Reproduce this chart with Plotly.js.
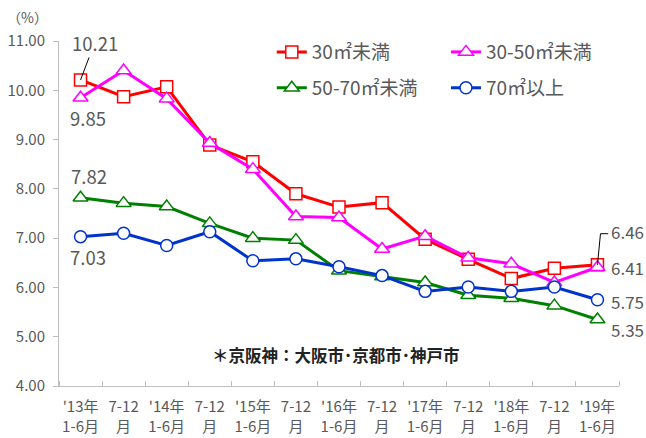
<!DOCTYPE html>
<html><head><meta charset="utf-8">
<script src="https://cdn.plot.ly/plotly-3.0.1.min.js"></script>
<style>html,body{margin:0;padding:0;background:#fff}#c{width:646px;height:438px}</style>
</head><body><div id="c"></div>
<script>
const categories = ["'13年<br>1-6月","7-12<br>月","'14年<br>1-6月","7-12<br>月","'15年<br>1-6月","7-12<br>月","'16年<br>1-6月","7-12<br>月","'17年<br>1-6月","7-12<br>月","'18年<br>1-6月","7-12<br>月","'19年<br>1-6月"];
const seriesNames = ["30㎡未満","30-50㎡未満","50-70㎡未満","70㎡以上"];
const under30 = [10.21, 9.87, 10.07, 8.89, 8.55, 7.90, 7.63, 7.72, 6.98, 6.57, 6.18, 6.39, 6.46];
const from30to50 = [9.85, 10.40, 9.83, 8.93, 8.40, 7.44, 7.42, 6.78, 7.04, 6.60, 6.48, 6.10, 6.41];
const from50to70 = [7.82, 7.71, 7.64, 7.30, 7.00, 6.96, 6.34, 6.22, 6.10, 5.84, 5.78, 5.63, 5.35];
const over70 = [7.03, 7.10, 6.85, 7.13, 6.54, 6.58, 6.42, 6.24, 5.92, 6.01, 5.92, 6.01, 5.75];
const noteText = "＊京阪神：大阪市･京都市･神戸市";
const unitText = "（%）";

const FONT = "'Noto Sans CJK JP', 'Noto Sans', sans-serif";
const GRAY = "#595959";
const cols = ["#FF0000","#FF00FF","#008000","#0033CC"];
const syms = ["square","triangle-up","triangle-up","circle"];
const all = [under30, from30to50, from50to70, over70];
const xIdx = categories.map((_, i) => i);
const legendIds = ["legend","legend2","legend3","legend4"];

const traces = all.map((v,i)=>({
  type:"scatter", mode:"lines+markers", name:seriesNames[i],
  x:xIdx, y:v,
  legend: legendIds[i],
  line:{color:cols[i], width:3},
  marker:{symbol:syms[i], size: syms[i].startsWith("triangle")?13:12, color:"#fff", line:{color:cols[i], width:1.5}},
  hoverinfo:"skip"
}));

const last = categories.length-1;
const annFont = {family:FONT, size:18.5, color:GRAY};
const annFontR = {family:FONT, size:17, color:GRAY};
const annotations = [
  {x:0, y:under30[0], text:under30[0].toFixed(2), showarrow:true, arrowhead:0, arrowwidth:1, arrowcolor:"#000", ax:14, ay:-37, font:annFont},
  {x:0, y:from30to50[0], text:from30to50[0].toFixed(2), showarrow:false, xshift:7, yshift:-20, font:annFont},
  {x:0, y:from50to70[0], text:from50to70[0].toFixed(2), showarrow:false, xshift:8, yshift:22, font:annFont},
  {x:0, y:over70[0], text:over70[0].toFixed(2), showarrow:false, xshift:7, yshift:-20, font:annFont},
  {x:last, y:under30[last], text:under30[last].toFixed(2), showarrow:false, xanchor:"left", xshift:12, yshift:33, font:annFontR},
  {x:last, y:from30to50[last], text:from30to50[last].toFixed(2), showarrow:false, xanchor:"left", xshift:12, yshift:0, font:annFontR},
  {x:last, y:over70[last], text:over70[last].toFixed(2), showarrow:false, xanchor:"left", xshift:12, yshift:-2, font:annFontR},
  {x:last, y:from50to70[last], text:from50to70[last].toFixed(2), showarrow:false, xanchor:"left", xshift:12, yshift:-10, font:annFontR},
  {xref:"paper", yref:"paper", x:0.495, y:0.09, xanchor:"center", yanchor:"middle", text:"<b>"+noteText+"</b>", showarrow:false, font:{family:FONT, size:16.5, color:"#222"}},
  {xref:"paper", yref:"paper", x:-0.057, y:1.07, xanchor:"center", yanchor:"middle", text:unitText, showarrow:false, font:{family:FONT, size:14, color:GRAY}}
];

const shapes = [
  {type:"path", xref:"x", yref:"y", path:`M ${last},${under30[last]} L ${last+0.07},7.09 L ${last+0.25},7.09`, line:{color:"#000", width:1}}
];

const legPos = [[0.380,0.968],[0.691,0.968],[0.380,0.864],[0.691,0.864]];
const layout = {
  width:646, height:438,
  margin:{l:59, r:27, t:41, b:52},
  paper_bgcolor:"#fff", plot_bgcolor:"#fff",
  font:{family:FONT, color:GRAY},
  showlegend:true,
  xaxis:{range:[-0.5, last+0.5], tickmode:"array", tickvals:xIdx, ticktext:categories, ticks:"", ticklabelstandoff:7,
         minor:{tick0:0.5, dtick:1, ticks:"inside", ticklen:5, tickcolor:"#BFBFBF", showgrid:false},
         showline:true, linecolor:"#BFBFBF", linewidth:1, showgrid:false, zeroline:false, tickfont:{family:FONT, size:15, color:GRAY}, tickangle:0, fixedrange:true},
  yaxis:{range:[4,11], dtick:1, tickformat:".2f", showline:true, linecolor:"#BFBFBF", linewidth:1, ticks:"outside", ticklen:5, tickcolor:"#BFBFBF", ticklabelstandoff:5, showgrid:false, zeroline:false, tickfont:{family:FONT, size:15, color:GRAY}, fixedrange:true},
  annotations, shapes
};
legendIds.forEach((id,i)=>{
  layout[id] = {orientation:"h", x:legPos[i][0], y:legPos[i][1], xanchor:"left", yanchor:"middle", font:{family:FONT, size:19, color:GRAY}, bgcolor:"rgba(0,0,0,0)", borderwidth:0};
});

Plotly.newPlot("c", traces, layout, {staticPlot:true, displayModeBar:false});
</script></body></html>
